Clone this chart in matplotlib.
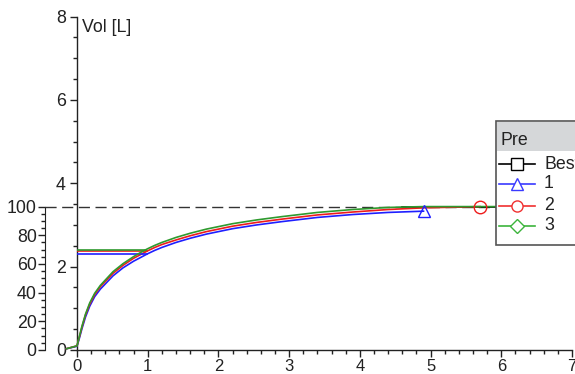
import numpy as np
import matplotlib
matplotlib.use("Agg")
import matplotlib.pyplot as plt
from matplotlib.patches import Rectangle
from matplotlib.lines import Line2D
from matplotlib.ticker import MultipleLocator, FixedLocator

plt.rcParams['font.family'] = ['Liberation Sans', 'DejaVu Sans']

# curve data (x in units of the x axis, y in Vol [L])
x_curve = [-0.15, 0.0, 0.03, 0.07, 0.12, 0.18, 0.25, 0.33, 0.51, 0.65, 0.8, 0.9,
           1.0, 1.1, 1.2, 1.4, 1.6, 1.83, 2.2, 2.54, 2.9, 3.4, 3.9, 4.4, 4.9]
vol_1 = [0.03, 0.09, 0.26, 0.51, 0.79, 1.05, 1.28, 1.46, 1.78, 1.97, 2.13, 2.22,
         2.31, 2.39, 2.46, 2.58, 2.68, 2.78, 2.91, 3.00, 3.08, 3.18, 3.25, 3.30, 3.33]
vol_2 = [0.03, 0.10, 0.29, 0.55, 0.84, 1.10, 1.33, 1.52, 1.84, 2.03, 2.20, 2.29,
         2.38, 2.46, 2.53, 2.64, 2.74, 2.84, 2.97, 3.06, 3.14, 3.24, 3.31, 3.37, 3.41]
vol_3 = [0.03, 0.10, 0.30, 0.57, 0.86, 1.13, 1.36, 1.55, 1.88, 2.07, 2.24, 2.34,
         2.43, 2.51, 2.58, 2.70, 2.80, 2.90, 3.03, 3.12, 3.20, 3.30, 3.37, 3.42, 3.44]
# tails beyond the shared grid
x_tail_2 = [5.7]
vol_tail_2 = [3.44]
x_tail_3 = [5.7, 7.0]
vol_tail_3 = [3.44, 3.44]
x_best = [4.6, 7.0]
vol_best = [3.44, 3.44]

# horizontal level segments at start
level_end = [0.99, 0.99, 0.98]
level_vol = [2.30, 2.37, 2.41]

vol_100 = 3.44  # volume that corresponds to 100 %
pct_ticks = [0, 20, 40, 60, 80, 100]

names = ["Best", "1", "2", "3"]
colors = ["black", "#1f1fff", "#ee1c1c", "#2e9a2e"]
legend_colors = ["black", "#3a3aff", "#f03030", "#3cb43c"]
markers = ["s", "^", "o", "D"]

fs = 12.8
W, H = 575, 374
fig = plt.figure(figsize=(W / 100, H / 100), dpi=100)
x0, x7 = 77, 572
y0, y8 = 350, 16.5
rect = [x0 / W, (H - y0) / H, (x7 - x0) / W, (y0 - y8) / H]

# secondary percent axis (drawn first, behind)
ax2 = fig.add_axes(rect)
ax2.patch.set_visible(False)
for s in ['top', 'right', 'bottom']:
    ax2.spines[s].set_visible(False)
ax2.spines['left'].set_position(('axes', (45 - x0) / (x7 - x0)))
ax2.spines['left'].set_bounds(0, 100)
ax2.spines['left'].set_color('#222222')
ax2.set_ylim(0, 8 / vol_100 * 100)
ax2.set_xticks([])
ax2.yaxis.set_major_locator(FixedLocator(pct_ticks))
ax2.yaxis.set_minor_locator(FixedLocator(np.arange(0, 101, 5)))
ax2.tick_params(which='major', length=5, width=1, labelsize=fs, colors='#222222', pad=1)
ax2.tick_params(which='minor', length=3, width=1, colors='#222222')

ax = fig.add_axes(rect)
ax.patch.set_visible(False)
ax.set_xlim(0, 7)
ax.set_ylim(0, 8)

for s in ['top', 'right']:
    ax.spines[s].set_visible(False)
for s in ['left', 'bottom']:
    ax.spines[s].set_linewidth(1.0)
    ax.spines[s].set_color('#222222')

ax.xaxis.set_major_locator(MultipleLocator(1))
ax.xaxis.set_minor_locator(MultipleLocator(0.2))
ax.yaxis.set_major_locator(MultipleLocator(2))
ax.yaxis.set_minor_locator(MultipleLocator(0.5))
ax.tick_params(which='major', length=5, width=1, labelsize=fs, colors='#222222', pad=3)
ax.tick_params(which='minor', length=3, width=1, colors='#222222')
ax.tick_params(axis='x', pad=1.5, labelsize=12)

# 100 % dashed line
ax.plot([(45 - x0) / 70.7, 7.1], [vol_100, vol_100], color='#333333', lw=1.0,
        dashes=(8, 4), clip_on=False, zorder=1)

lw = 1.2
ax.plot(x_best, vol_best, color=colors[0], lw=lw, clip_on=False, zorder=2)
ax.plot(x_curve, vol_1, color=colors[1], lw=lw, clip_on=False, zorder=3)
ax.plot(x_curve[-1:], vol_1[-1:], ls='none', marker=markers[1], ms=9, mfc='none',
        mec=colors[1], mew=1.0, clip_on=False, zorder=5)
ax.plot(x_curve + x_tail_2, vol_2 + vol_tail_2, color=colors[2], lw=lw,
        clip_on=False, zorder=3)
ax.plot(x_tail_2, vol_tail_2, ls='none', marker=markers[2], ms=9, mfc='none',
        mec=colors[2], mew=1.0, clip_on=False, zorder=5)
ax.plot(x_curve + x_tail_3, vol_3 + vol_tail_3, color=colors[3], lw=lw,
        clip_on=False, zorder=4)

for k in range(3):
    ax.plot([0, level_end[k]], [level_vol[k], level_vol[k]], color=colors[k + 1],
            lw=lw, zorder=3)

fig.text(82 / W, 1 - 27.5 / H, "Vol [L]", fontsize=fs, color='#222222',
         ha='left', va='center')

# legend (partly outside the figure, as in the original)
def fx(px):
    return px / W

def fy(py):
    return 1 - py / H

fig.patches.append(Rectangle((fx(495.5), fy(245.5)), fx(120), (245.5 - 121) / H,
                             transform=fig.transFigure, fc='white', ec='#555555',
                             lw=1.2, zorder=10))
fig.patches.append(Rectangle((fx(496.5), fy(151.5)), fx(100), (151.5 - 122) / H,
                             transform=fig.transFigure, fc='#d5d7d9', ec='none',
                             zorder=11))
fig.text(fx(500.5), fy(141), "Pre", fontsize=fs, color='#222222', ha='left',
         va='center', zorder=12)
entry_y = [164.3, 184, 205.7, 226]
for k in range(4):
    fig.lines.append(Line2D([fx(499), fx(535)], [fy(entry_y[k])] * 2,
                            transform=fig.transFigure, color=legend_colors[k],
                            lw=1.2, zorder=12))
    fig.lines.append(Line2D([fx(516.7)], [fy(entry_y[k])], transform=fig.transFigure,
                            ls='none', marker=markers[k], ms=8 if k != 3 else 7,
                            mfc='white', mec=legend_colors[k], mew=1.0, zorder=13))
    fig.text(fx(544), fy(entry_y[k]), names[k], fontsize=fs, color='#222222',
             ha='left', va='center', zorder=12)

fig.savefig("out.png", dpi=100)
